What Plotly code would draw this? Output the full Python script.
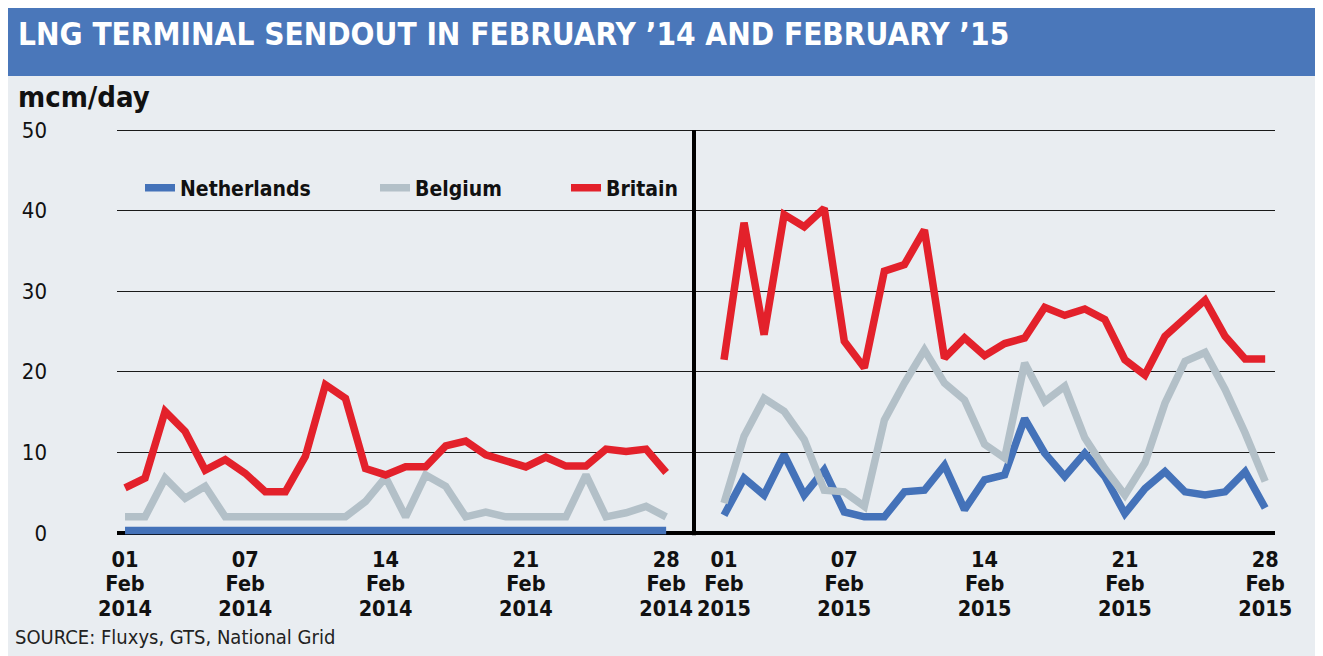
import plotly.graph_objects as go

# ---------------- data ----------------
days = list(range(1, 29))
tick_days = [1, 7, 14, 21, 28]
tick_day_text = ["01", "07", "14", "21", "28"]
tick_month_text = ["Feb", "Feb", "Feb", "Feb", "Feb"]
tick_year_2014 = ["2014", "2014", "2014", "2014", "2014"]
tick_year_2015 = ["2015", "2015", "2015", "2015", "2015"]
y_ticks = [0, 10, 20, 30, 40, 50]

nl_2014 = [0.3, 0.3, 0.3, 0.3, 0.3, 0.3, 0.3, 0.3, 0.3, 0.3, 0.3, 0.3, 0.3, 0.3,
           0.3, 0.3, 0.3, 0.3, 0.3, 0.3, 0.3, 0.3, 0.3, 0.3, 0.3, 0.3, 0.3, 0.3]
be_2014 = [2.0, 2.0, 6.8, 4.3, 5.8, 2.0, 2.0, 2.0, 2.0, 2.0, 2.0, 2.0, 3.9, 6.9,
           2.0, 7.2, 5.8, 2.0, 2.6, 2.0, 2.0, 2.0, 2.0, 7.2, 2.0, 2.5, 3.3, 2.0]
gb_2014 = [5.6, 6.8, 15.1, 12.6, 7.8, 9.1, 7.4, 5.1, 5.1, 9.5, 18.4, 16.7, 8.0, 7.2,
           8.2, 8.2, 10.8, 11.4, 9.7, 8.9, 8.2, 9.4, 8.3, 8.3, 10.4, 10.1, 10.4, 7.5]

nl_2015 = [2.2, 6.8, 4.7, 9.7, 4.7, 7.8, 2.6, 2.0, 2.0, 5.1, 5.3, 8.4, 2.9, 6.6,
           7.2, 14.2, 9.9, 7.0, 9.9, 7.0, 2.4, 5.5, 7.6, 5.1, 4.7, 5.1, 7.6, 3.1]
be_2015 = [3.7, 12.0, 16.7, 15.1, 11.6, 5.3, 5.1, 3.3, 14.0, 18.6, 22.7, 18.6, 16.5, 11.0,
           9.3, 21.1, 16.3, 18.2, 11.8, 8.0, 4.7, 8.7, 16.1, 21.3, 22.4, 17.8, 12.4, 6.4]
gb_2015 = [21.5, 38.5, 24.6, 39.5, 38.0, 40.3, 23.8, 20.5, 32.5, 33.3, 37.6, 21.7, 24.2, 22.0,
           23.5, 24.2, 28.0, 27.0, 27.8, 26.5, 21.5, 19.6, 24.4, 26.7, 28.9, 24.4, 21.6, 21.6]

series_names = ["Netherlands", "Belgium", "Britain"]

# ---------------- layout helpers ----------------
# the page body adds an 8px margin, so the figure is 8px smaller
OFF = 8
W, H = 1323 - OFF, 656 - OFF
L, R, T, B = 117 - OFF, 48, 122 - OFF, 115
PW = W - L - R
PH = H - T - B


def px(x):  # x in screen pixels -> paper fraction
    return (x - OFF - L) / PW


def py(y):  # y in screen pixels -> paper fraction
    return (H - B - (y - OFF)) / PH


split = px(694)
FONT = "DejaVu Sans Condensed, Liberation Sans Narrow, Arial Narrow, sans-serif"
colors = ["#4472B9", "#B3C0C8", "#E3212B"]
legend_ids = ["legend", "legend2", "legend3"]
# each series of a panel sits on its own (identical, overlaid) x axis,
# which carries one line of the three-line date labels
left_axes = ["x", "x3", "x5"]
right_axes = ["x2", "x4", "x6"]

fig = go.Figure()
for name, col, s14, s15, lg, xa, xb in zip(series_names, colors,
                                           [nl_2014, be_2014, gb_2014],
                                           [nl_2015, be_2015, gb_2015],
                                           legend_ids, left_axes, right_axes):
    fig.add_trace(go.Scatter(x=days, y=s14, xaxis=xa, yaxis="y", mode="lines",
                             name=name, legend=lg,
                             line=dict(color=col, width=7.5)))
    fig.add_trace(go.Scatter(x=days, y=s15, xaxis=xb, yaxis="y", mode="lines",
                             name=name, legend=lg, showlegend=False,
                             line=dict(color=col, width=7.5)))

tickfont = dict(family=FONT, size=21.5, color="#111", weight="bold")
common_x = dict(showgrid=False, zeroline=False, showline=False, ticks="",
                tickvals=tick_days, tickfont=tickfont, anchor="y", fixedrange=True)
left_range = [0.6, 29.39]
right_range = [-0.497, 28.49]

fig.update_layout(
    width=W, height=H,
    margin=dict(l=L, r=R, t=T, b=B, autoexpand=False),
    paper_bgcolor="#E9EDF1",
    plot_bgcolor="rgba(0,0,0,0)",
    showlegend=True,
    xaxis=dict(domain=[0, split], range=left_range, ticktext=tick_day_text,
               ticklabelstandoff=3, **common_x),
    xaxis3=dict(domain=[0, split], range=left_range, overlaying="x",
                ticktext=tick_month_text, ticklabelstandoff=27, **common_x),
    xaxis5=dict(domain=[0, split], range=left_range, overlaying="x",
                ticktext=tick_year_2014, ticklabelstandoff=52, **common_x),
    xaxis2=dict(domain=[split, 1], range=right_range, ticktext=tick_day_text,
                ticklabelstandoff=3, **common_x),
    xaxis4=dict(domain=[split, 1], range=right_range, overlaying="x2",
                ticktext=tick_month_text, ticklabelstandoff=27, **common_x),
    xaxis6=dict(domain=[split, 1], range=right_range, overlaying="x2",
                ticktext=tick_year_2015, ticklabelstandoff=52, **common_x),
    yaxis=dict(domain=[0, 1], range=[-1, 51], tickvals=y_ticks,
               showgrid=True, gridcolor="#1a1a1a", gridwidth=1.3,
               zeroline=True, zerolinecolor="#000", zerolinewidth=4,
               showline=False, ticks="", ticklabelstandoff=69,
               tickfont=dict(family=FONT, size=22, color="#111"),
               fixedrange=True),
)

leg_common = dict(orientation="h", yanchor="middle", xanchor="left",
                  bgcolor="rgba(0,0,0,0)", borderwidth=0,
                  font=dict(family=FONT, size=21, color="#111", weight="bold"))
fig.update_layout(
    legend=dict(x=px(140), y=py(188), **leg_common),
    legend2=dict(x=px(375), y=py(188), **leg_common),
    legend3=dict(x=px(566), y=py(188), **leg_common),
)

fig.update_layout(shapes=[
    dict(type="rect", xref="paper", yref="paper", x0=px(0), x1=px(1340),
         y0=py(76), y1=py(-10), fillcolor="#4A77BA", line=dict(width=0), layer="below"),
    dict(type="line", xref="x2 domain", yref="y", x0=0, x1=0, y0=-0.3, y1=50,
         line=dict(color="#000", width=4)),
])

fig.update_layout(annotations=[
    dict(text="LNG TERMINAL SENDOUT IN FEBRUARY ’14 AND FEBRUARY ’15",
         xref="paper", yref="paper", x=px(16), y=py(34), xanchor="left", yanchor="middle",
         showarrow=False, font=dict(family=FONT, size=31.3, color="white", weight="bold")),
    dict(text="mcm/day", xref="paper", yref="paper", x=px(16), y=py(97),
         xanchor="left", yanchor="middle", showarrow=False,
         font=dict(family=FONT, size=29, color="#111", weight="bold")),
    dict(text="SOURCE: Fluxys, GTS, National Grid", xref="paper", yref="paper",
         x=px(13), y=py(637), xanchor="left", yanchor="middle", showarrow=False,
         font=dict(family=FONT, size=20, color="#222")),
])

fig.write_html("out.html")
